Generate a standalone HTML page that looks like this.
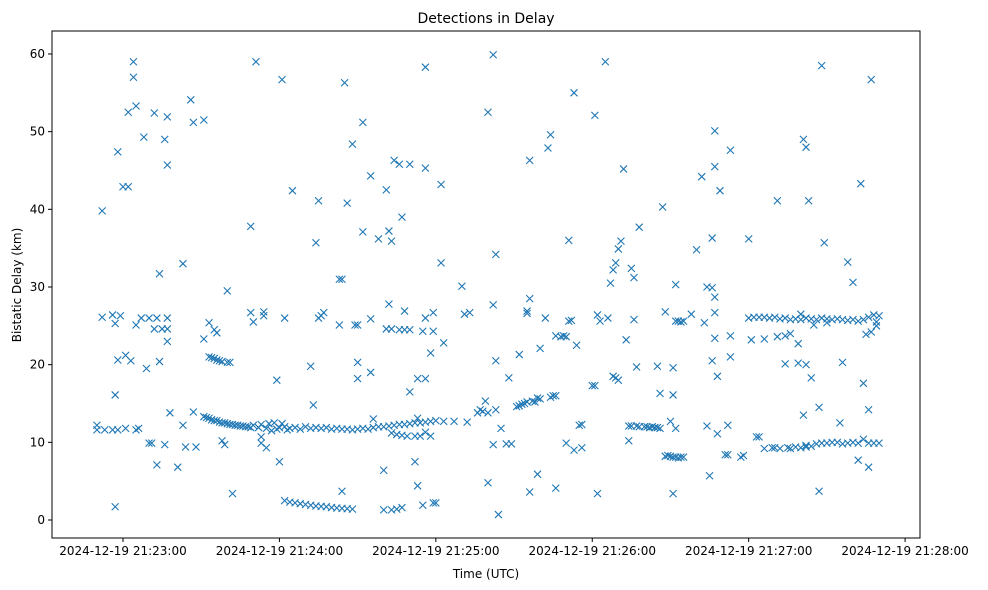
<!DOCTYPE html>
<html><head><meta charset="utf-8"><title>Detections in Delay</title>
<style>
html,body{margin:0;padding:0;background:#fff;}
svg{display:block;font-family:"DejaVu Sans","Liberation Sans",sans-serif;}
</style></head>
<body>
<svg id="chart" width="988" height="590" viewBox="0 0 988 590" xmlns="http://www.w3.org/2000/svg">
<rect x="0" y="0" width="988" height="590" fill="#fff"/>
<text x="486" y="23" text-anchor="middle" font-size="14" fill="#000">Detections in Delay</text>
<text x="486" y="578" text-anchor="middle" font-size="12" fill="#000">Time (UTC)</text>
<text transform="translate(21,285) rotate(-90)" text-anchor="middle" font-size="12" fill="#000">Bistatic Delay (km)</text>
<g id="marks"></g>
<g id="axes"></g>
<rect x="52" y="31" width="868" height="507" fill="none" stroke="#000" stroke-width="1"/>
</svg>
<script>
// seconds after 21:23:00 UTC
const xTickSeconds = [0, 60, 120, 180, 240, 300];
const xTickLabels = ["2024-12-19 21:23:00","2024-12-19 21:24:00","2024-12-19 21:25:00","2024-12-19 21:26:00","2024-12-19 21:27:00","2024-12-19 21:28:00"];
const yTicks = [0, 10, 20, 30, 40, 50, 60];
// [time offset (s), bistatic delay (km)]
const detections = [
[-10,12.2],[-10,11.6],[-8,39.8],[-8,26.1],[-4,26.4],[-4,11.6],[-3,1.7],[-3,16.1],[-2,47.4],[-2,11.6],[-2,20.6],[-1,26.3],[0,42.9],[2,42.9],[1,21.2],[2,52.5],[3,20.5],[4,57],[4,59],[5,53.3],[5,11.6],[5,25.1],[7,26],[8,49.3],[9,19.5],[10,26],[10,9.9],[11,9.9],[12,52.4],[12,24.6],[13,7.1],[13,26],[14,31.7],[14,20.4],[15,24.6],[16,49],[16,9.7],[17,51.9],[17,26],[17,23],[17,45.7],[17,24.6],[18,13.8],[21,6.8],[23,33],[23,12.2],[24,9.4],[26,54.1],[27,13.9],[27,51.2],[28,9.4],[31,51.5],
[-7,11.6],[1,11.8],[6,11.8],[-3,25.3],
[31,13.3],[32,13.2],[33,13.1],[34,12.9],[35,12.8],[36,12.8],[37,12.6],[38,12.5],[39,12.5],[40,12.4],[41,12.3],[42,12.3],[43,12.2],[44,12.2],[45,12.1],[46,12.1],[47,12.0],[48,12.0],[49,11.9],[50,12.2],[52,11.9],[53,12.3],[55,11.8],[56,12.4],[57,11.5],[58,12.5],[59,11.7],[61,12.4],[63,11.6],
[33,21],[34,20.9],[35,20.8],[36,20.6],[37,20.5],[38,20.4],[40,20.3],[41,20.3],[33,25.4],[35,24.5],[36,24.1],[31,23.3],
[38,10.2],[39,9.7],[40,29.5],[42,3.4],[49,37.8],[49,26.7],[50,25.5],[51,59],[53,9.9],[54,26.3],[54,26.8],[55,9.3],[53,10.7],[59,18],[60,7.5],
[60,11.9],[62,12],[64,11.8],[66,11.9],[68,11.7],[70,12],[72,11.8],[74,11.9],[76,11.8],[78,11.9],[80,11.7],[82,11.8],[84,11.7],[86,11.7],[88,11.6],[90,11.7],[92,11.8],[94,11.7],[96,11.9],[98,12],[100,12],[102,12.1],[104,12.2],[106,12.3],[108,12.3],[110,12.4],[112,12.5],[114,12.5],[116,12.6],[118,12.7],[120,12.8],
[62,2.5],[64,2.3],[66,2.2],[68,2.1],[70,2.0],[72,1.9],[74,1.8],[76,1.75],[78,1.7],[80,1.6],[82,1.55],[84,1.5],[86,1.45],[88,1.4],
[61,56.7],[62,26],[65,42.4],[72,19.8],[73,14.8],[74,35.7],[75,41.1],[75,26],[76,26.3],[77,26.7],[83,31],[84,31],[83,25.1],[84,3.7],[85,56.3],[86,40.8],[88,48.4],[89,25.1],[90,25.1],[90,20.3],[90,18.2],[92,51.2],[92,37.1],[95,44.3],[95,25.9],[95,19],[96,13],[98,36.2],[100,1.3],[100,6.4],[101,42.5],[102,37.2],[101,24.6],[102,27.8],[103,24.6],[103,35.9],[104,46.3],[106,45.8],[106,24.5],[107,39],[108,24.5],[108,26.9],[103,11.2],[103,1.3],[105,1.4],[107,1.6],[109,10.8],[110,24.5],[110,45.8],[110,16.5],[112,10.8],[112,7.5],[113,13.1],[113,18.2],[113,4.4],[114,10.8],[115,24.3],[116,58.3],[116,45.3],[116,26],[116,18.2],[115,1.9],[118,21.5],[119,24.3],[119,26.7],[119,2.2],[120,2.2],[122,43.2],[122,33.1],[123,22.8],[123,12.7],[116,11.3],[118,10.8],[105,11],[107,10.9],
[127,12.7],[130,30.1],[131,26.5],[132,12.6],[133,26.7],[136,13.8],[137,14.2],[138,14],[139,15.3],[140,52.5],[140,4.8],[140,13.8],[142,27.7],[142,59.9],[142,9.7],[143,34.2],[143,20.5],[143,14.2],[144,0.7],[145,11.8],[147,9.8],[148,18.3],[149,9.8],[151,14.6],[152,14.7],[152,21.3],[153,14.9],[154,15],[155,26.9],[155,26.6],[156,46.3],[156,28.5],[155,15.2],[156,3.6],[157,15.3],[158,15.2],[159,5.9],[159,15.7],[160,22.1],[160,15.6],[162,26],[163,47.9],[164,49.6],[164,15.8],[165,16],[166,16],[166,4.1],[166,23.7],[168,23.6],[169,23.7],[170,9.9],[170,23.6],[171,36],[171,25.6],[172,25.7],[173,9],[173,55],[174,22.5],[175,12.2],[176,12.3],[176,9.3],[180,17.3],[181,17.3],[181,52.1],[182,3.4],[182,26.4],[183,25.6],
[185,59],[186,26],[187,30.5],[188,32.2],[188,18.5],[189,33.1],[189,18.3],[190,18],[190,34.9],[191,35.9],[192,45.2],[193,23.2],[194,12.1],[194,10.2],[195,32.4],[196,31.2],[196,25.8],[197,19.7],[198,37.7],
[195,12.1],[197,12.1],[198,12],[200,12],[201,12],[202,11.9],[203,12],[204,11.9],[205,11.9],[206,11.8],[205,19.8],[206,16.3],[207,40.3],[208,8.2],[208,26.8],
[209,8.3],[210,8.2],[211,8.1],[212,8.1],[213,8],[214,8.1],[215,8.1],[211,19.6],[211,16.1],[211,3.4],[212,30.3],[212,25.6],[213,25.6],[214,25.5],[215,25.6],[212,11.8],[210,12.7],
[218,26.5],[220,34.8],[222,44.2],[223,25.4],[224,30],[224,12.1],[225,5.7],[226,20.5],[226,36.3],[226,29.9],[227,28.7],[227,23.4],[227,26.7],[227,50.1],[227,45.5],[228,18.5],[228,11.1],[229,42.4],[231,8.4],[232,12.2],[232,8.4],[233,47.6],[233,23.7],[233,21],[237,8.1],[238,8.3],[240,36.2],[240,26],[241,23.2],[243,10.7],[244,10.7],
[242,26.1],[244,26.1],[246,26.1],[248,26],[250,26.1],[252,25.9],[254,26],[256,25.8],[258,25.9],[260,25.8],[262,26],[264,25.9],[266,25.8],[268,26],[270,25.9],[272,25.8],[274,25.9],[276,25.8],[278,25.7],[280,25.8],[282,25.6],[284,25.8],[286,26.1],[288,26.4],[290,26.3],[289,25.5],[265,25.1],[270,25.4],
[246,9.2],[249,9.3],[252,9.2],[255,9.3],[258,9.4],[260,9.3],[262,9.6],[264,9.5],[266,9.8],[268,9.9],[270,9.9],[272,10],[274,10],[276,9.8],[278,9.9],[280,10],[282,9.9],[284,10.4],[286,9.9],[288,9.9],[290,9.9],[250,9.3],[256,9.2],[262,9.4],
[246,23.3],[251,41.1],[251,23.6],[254,23.7],[254,20.1],[256,24],[259,20.2],[259,22.7],[260,26.5],[261,13.5],[261,49],[262,48],[262,20],[263,41.1],[264,18.3],[267,14.5],[267,3.7],[268,58.5],[269,35.7],[275,12.5],[276,20.3],[278,33.2],[280,30.6],[282,7.7],[283,43.3],[284,17.6],[285,23.9],[286,6.8],[286,14.2],[287,24.2],[287,56.7],[289,25]
];
const X0 = 123, PX_PER_S = 2.607, Y0 = 520, PX_PER_KM = 7.767;
function xScale(s){ return X0 + s * PX_PER_S; }
function yScale(k){ return Y0 - k * PX_PER_KM; }
const NS = "http://www.w3.org/2000/svg";
const marks = document.getElementById('marks');
const axes = document.getElementById('axes');
detections.forEach(function(p){
  const cx = xScale(p[0]), cy = yScale(p[1]);
  const path = document.createElementNS(NS, 'path');
  path.setAttribute('d', 'M'+(cx-3.5)+' '+(cy-3.5)+'L'+(cx+3.5)+' '+(cy+3.5)+'M'+(cx-3.5)+' '+(cy+3.5)+'L'+(cx+3.5)+' '+(cy-3.5));
  path.setAttribute('stroke', '#1f77b4');
  path.setAttribute('stroke-width', '1.1');
  path.setAttribute('fill', 'none');
  
  
  marks.appendChild(path);
});
xTickSeconds.forEach(function(s, i){
  const x = xScale(s);
  const t = document.createElementNS(NS, 'line');
  t.setAttribute('x1', x); t.setAttribute('x2', x); t.setAttribute('y1', 538); t.setAttribute('y2', 542);
  t.setAttribute('stroke', '#000');
  
  
  axes.appendChild(t);
  const lb = document.createElementNS(NS, 'text');
  lb.setAttribute('x', x); lb.setAttribute('y', 555); lb.setAttribute('text-anchor', 'middle'); lb.setAttribute('font-size', '12');
  lb.textContent = xTickLabels[i];
  
  
  axes.appendChild(lb);
});
yTicks.forEach(function(v){
  const y = yScale(v);
  const t = document.createElementNS(NS, 'line');
  t.setAttribute('x1', 48); t.setAttribute('x2', 52); t.setAttribute('y1', y); t.setAttribute('y2', y);
  t.setAttribute('stroke', '#000');
  
  
  axes.appendChild(t);
  const lb = document.createElementNS(NS, 'text');
  lb.setAttribute('x', 45); lb.setAttribute('y', y + 4); lb.setAttribute('text-anchor', 'end'); lb.setAttribute('font-size', '12');
  lb.textContent = String(v);
  
  
  axes.appendChild(lb);
});
</script>
</body></html>
